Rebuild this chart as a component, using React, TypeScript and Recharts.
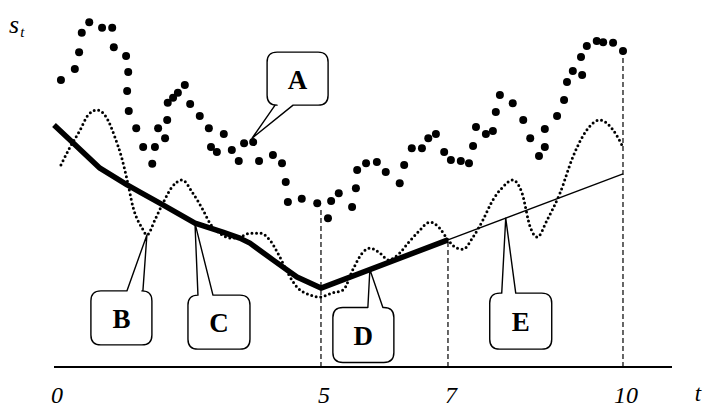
import React from "react"
import { ComposedChart, Line, Scatter, XAxis, YAxis, ReferenceLine, ReferenceDot, Label } from "recharts"

// observed values s_t, one dot per (t, s)
const observed: [number, number][] = [
  [0.13, 80.4], [0.39, 83.5], [0.47, 88.2], [0.52, 93.6], [0.66, 96.6], [0.9, 95.0], [1.09, 95.0],
  [1.12, 89.6], [1.35, 87.1], [1.39, 82.6], [1.37, 77.3], [1.4, 71.7], [1.54, 66.9], [1.67, 61.6],
  [1.84, 56.9], [1.89, 61.6], [1.95, 66.9], [2.08, 64.1], [2.12, 69.2], [2.13, 74.0], [2.23, 75.4],
  [2.32, 76.8], [2.45, 79.0], [2.55, 73.7], [2.73, 70.3], [2.9, 66.9], [2.94, 61.6], [3.05, 60.2],
  [3.18, 65.3], [3.33, 60.8], [3.46, 57.7], [3.56, 62.7], [3.73, 63.0], [3.84, 57.7], [4.1, 59.4],
  [4.27, 57.1], [4.34, 51.8], [4.38, 46.2], [4.64, 47.1], [4.93, 45.9], [5.11, 41.7], [5.16, 46.5],
  [5.28, 48.7], [5.49, 44.8], [5.55, 50.1], [5.57, 55.2], [5.71, 57.1], [5.88, 57.4], [6.02, 54.6],
  [6.24, 51.5], [6.31, 56.6], [6.43, 61.3], [6.59, 61.3], [6.69, 64.1], [6.81, 65.3], [6.94, 60.2],
  [7.05, 58.0], [7.22, 57.7], [7.36, 57.1], [7.43, 61.9], [7.48, 67.2], [7.65, 65.3], [7.77, 66.1],
  [7.82, 71.4], [7.89, 76.2], [8.11, 73.9], [8.29, 69.2], [8.41, 64.1], [8.56, 59.1], [8.66, 61.6],
  [8.66, 66.7], [8.87, 70.3], [8.99, 74.8], [9.04, 79.8], [9.14, 82.9], [9.3, 81.8], [9.28, 86.8],
  [9.38, 89.9], [9.55, 91.3], [9.66, 91.0], [9.83, 90.8], [10.0, 88.5],
]

// oscillating component (dotted)
const cycle: [number, number][] = [
  [0.13, 56.6], [0.3, 61.6], [0.49, 66.4], [0.64, 70.6], [0.81, 72.0], [0.99, 69.7], [1.14, 64.4],
  [1.27, 58.5], [1.37, 52.4], [1.48, 44.8], [1.65, 38.9], [1.74, 37.0], [1.89, 41.2], [2.04, 45.9],
  [2.21, 50.4], [2.4, 52.4], [2.6, 48.7], [2.79, 44.0], [2.92, 40.3], [3.15, 37.0], [3.3, 36.1],
  [3.48, 36.4], [3.67, 37.5], [3.86, 37.5], [4.04, 35.6], [4.23, 30.8], [4.38, 26.3], [4.55, 22.4],
  [4.79, 20.2], [4.98, 19.6], [5.17, 20.7], [5.35, 21.6], [5.5, 27.2], [5.65, 31.9], [5.77, 33.3],
  [5.93, 31.9], [6.06, 30.0], [6.24, 31.9], [6.37, 34.7], [6.53, 37.8], [6.72, 40.6], [6.87, 38.9],
  [7.0, 35.6], [7.15, 33.3], [7.26, 33.0], [7.43, 36.4], [7.6, 41.2], [7.77, 46.8], [7.94, 50.4],
  [8.11, 52.4], [8.27, 48.7], [8.41, 39.2], [8.53, 36.4], [8.7, 41.2], [8.92, 48.7], [9.14, 58.8],
  [9.38, 66.4], [9.6, 69.2], [9.83, 66.4], [10.0, 61.6],
]

// fitted trend up to t = 7 (heavy line)
const trend: [number, number][] = [
  [0, 67.8], [0.3, 63.6], [0.86, 55.7], [1.37, 51.0], [1.61, 49.0], [2.04, 45.4], [2.64, 40.3],
  [3.16, 37.8], [3.48, 36.1], [3.67, 34.7], [4.1, 30.0], [4.55, 25.2], [5, 22.1], [7, 35.6],
]

// trend carried forward from 7 to 10 (thin line)
const forecast: [number, number][] = [[7, 35.6], [10, 54.1]]

const tTicks = [0, 5, 7, 10]

// dashed guides: t and the height they reach
const guides: [number, number][] = [[5, 44.0], [7, 35.6], [10, 88.5]]

// callout letters and the (t, s) they point at
const callouts = [
  { label: "A", t: 3.71, s: 64.1 },
  { label: "B", t: 1.74, s: 37.0 },
  { label: "C", t: 2.64, s: 40.3 },
  { label: "D", t: 5.77, s: 27.3 },
  { label: "E", t: 7.99, s: 41.7 },
]

// bubble geometry relative to the pointer tip (px): box x/y extents and pointer base
const bubbleBoxes: Record<string, { x0: number; x1: number; y0: number; y1: number; b0: number; b1: number }> = {
  A: { x0: 15, x1: 76, y0: -86, y1: -33, b0: 23, b1: 41 },
  B: { x0: -56, x1: 5, y0: 56, y1: 110, b0: -20, b1: -4 },
  C: { x0: -7, x1: 55, y0: 72, y1: 126, b0: 3, b1: 18 },
  D: { x0: -37, x1: 24, y0: 38, y1: 93, b0: -2, b1: 13 },
  E: { x0: -16, x1: 46, y0: 75, y1: 131, b0: -4, b1: 10 },
}

const toRows = (pts: [number, number][]) => pts.map(([t, s]) => ({ t, s }))

// the time axis is hand spaced, so each stretch between knots gets its own share of the width
const axisKnots = [0, 5, 7, 10, 10.84]
const knotShare = [0, 0.432, 0.6375, 0.9207, 1]

function knotScale(dom: number[] = [0, 10.84], rng: number[] = [0, 1]): any {
  const toUnit = (v: number) => {
    let i = 0
    while (i < axisKnots.length - 2 && v > axisKnots[i + 1]) i++
    const a = axisKnots[i]
    const b = axisKnots[i + 1]
    return knotShare[i] + ((v - a) / (b - a)) * (knotShare[i + 1] - knotShare[i])
  }
  const fromUnit = (u: number) => {
    let i = 0
    while (i < knotShare.length - 2 && u > knotShare[i + 1]) i++
    const a = knotShare[i]
    const b = knotShare[i + 1]
    return axisKnots[i] + ((u - a) / (b - a)) * (axisKnots[i + 1] - axisKnots[i])
  }
  const scale: any = (v: number) => rng[0] + toUnit(Number(v)) * (rng[1] - rng[0])
  scale.domain = (d?: number[]) => {
    if (d === undefined) return dom.slice()
    dom = d.slice()
    return scale
  }
  scale.range = (r?: number[]) => {
    if (r === undefined) return rng.slice()
    rng = r.slice()
    return scale
  }
  scale.invert = (px: number) => fromUnit((px - rng[0]) / (rng[1] - rng[0]))
  scale.copy = () => knotScale(dom.slice(), rng.slice())
  scale.ticks = () => tTicks.slice()
  scale.tickFormat = () => (v: number) => String(v)
  scale.nice = () => scale
  scale.clamp = () => scale
  return scale
}

const timeScale = knotScale()

const serif = '"Liberation Serif", "DejaVu Serif", serif'

function Bubble({ cx, cy, label }: { cx: number; cy: number; label: string }) {
  const g = bubbleBoxes[label]
  const l = cx + g.x0
  const r = cx + g.x1
  const top = cy + g.y0
  const bot = cy + g.y1
  const k = 10
  let d: string
  if (g.y0 > 0) {
    // box below the tip, pointer leaves the top edge
    d = `M${cx + g.b0},${top} L${cx},${cy} L${cx + g.b1},${top} L${r - k},${top} Q${r},${top} ${r},${top + k}
      L${r},${bot - k} Q${r},${bot} ${r - k},${bot} L${l + k},${bot} Q${l},${bot} ${l},${bot - k}
      L${l},${top + k} Q${l},${top} ${l + k},${top} Z`
  } else {
    // box above the tip, pointer leaves the bottom edge
    d = `M${cx + g.b0},${bot} L${cx},${cy} L${cx + g.b1},${bot} L${r - k},${bot} Q${r},${bot} ${r},${bot - k}
      L${r},${top + k} Q${r},${top} ${r - k},${top} L${l + k},${top} Q${l},${top} ${l},${top + k}
      L${l},${bot - k} Q${l},${bot} ${l + k},${bot} Z`
  }
  return (
    <g>
      <path d={d} fill="none" stroke="#000" strokeWidth={1.4} strokeLinejoin="round" />
      <text
        x={(l + r) / 2}
        y={(top + bot) / 2 + 1}
        textAnchor="middle"
        dominantBaseline="central"
        fontFamily={serif}
        fontWeight="bold"
        fontSize={27}
        fill="#000"
      >
        {label}
      </text>
    </g>
  )
}

// axis names: "t" past the right end of the time axis, "s_t" up by the top of the value axis
function AxisNames({ viewBox }: any) {
  const vb = viewBox
  return (
    <g fontFamily={serif} fontStyle="italic" fill="#000">
      <text x={vb.x + vb.width + 26} y={vb.y + 34} textAnchor="middle" fontSize={23}>
        t
      </text>
      <text x={vb.x - 45} y={vb.y - 334}>
        <tspan fontSize={26}>s</tspan>
        <tspan fontSize={15} dx={1} dy={4}>t</tspan>
      </text>
    </g>
  )
}

export default function App() {
  return (
    <div style={{ position: "absolute", left: 0, top: 0, width: 707, height: 408, background: "#fff" }}>
      <ComposedChart width={707} height={408} margin={{ top: 10, right: 35, bottom: 0, left: 54 }}>
        <XAxis
          type="number"
          dataKey="t"
          domain={[0, 10.84]}
          scale={timeScale}
          ticks={tTicks}
          interval={0}
          height={41}
          tickLine={false}
          tickSize={0}
          tickMargin={19}
          axisLine={{ stroke: "#000", strokeWidth: 2 }}
          tick={{ fill: "#000", fontFamily: serif, fontStyle: "italic", fontSize: 24, dx: 3 }}
        >
          <Label content={(p: any) => <AxisNames viewBox={p.viewBox} />} />
        </XAxis>
        <YAxis
          type="number"
          dataKey="s"
          domain={[0, 100]}
          width={0}
          tick={false}
          tickLine={false}
          axisLine={{ stroke: "#000", strokeWidth: 1.4 }}
        />

        {guides.map(([t, top]) => (
          <ReferenceLine
            key={`guide-${t}`}
            segment={[{ x: t, y: 0 }, { x: t, y: top }]}
            stroke="#000"
            strokeWidth={1.2}
            strokeDasharray="5 3"
          />
        ))}

        <Line
          data={toRows(cycle)}
          dataKey="s"
          type="monotone"
          stroke="#000"
          strokeWidth={3}
          strokeDasharray="0 4.6"
          strokeLinecap="round"
          dot={false}
          isAnimationActive={false}
        />
        <Line
          data={toRows(forecast)}
          dataKey="s"
          type="linear"
          stroke="#000"
          strokeWidth={1.3}
          dot={false}
          isAnimationActive={false}
        />
        <Line
          data={toRows(trend)}
          dataKey="s"
          type="linear"
          stroke="#000"
          strokeWidth={5.5}
          strokeLinejoin="round"
          dot={false}
          isAnimationActive={false}
        />
        <Scatter
          data={toRows(observed)}
          dataKey="s"
          fill="#000"
          isAnimationActive={false}
          shape={(p: any) => <circle cx={p.cx} cy={p.cy} r={4} fill="#000" />}
        />

        {callouts.map((c) => (
          <ReferenceDot
            key={c.label}
            x={c.t}
            y={c.s}
            r={0}
            shape={(p: any) => <Bubble cx={p.cx} cy={p.cy} label={c.label} />}
          />
        ))}
      </ComposedChart>
    </div>
  )
}
